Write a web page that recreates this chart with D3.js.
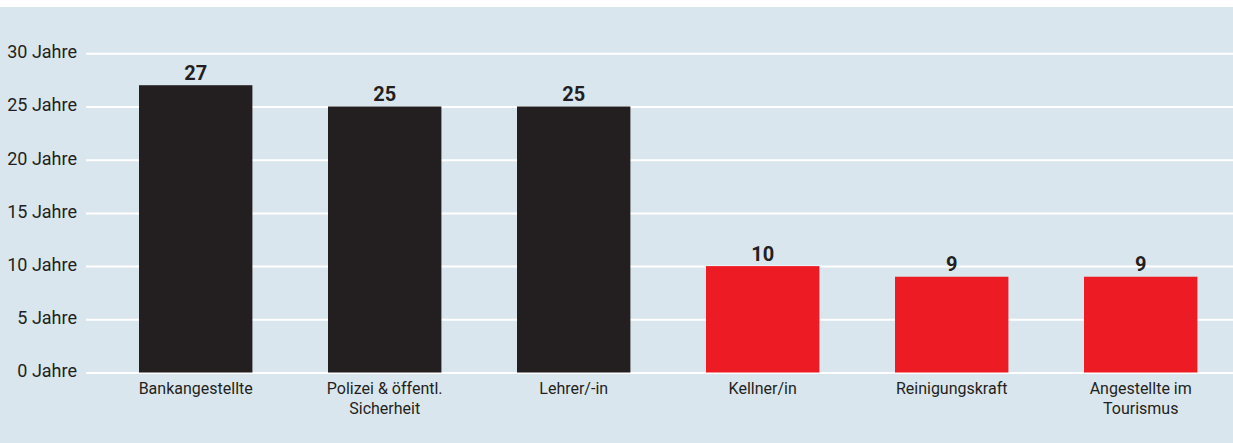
<!DOCTYPE html>
<html>
<head>
<meta charset="utf-8">
<script src="https://cdn.jsdelivr.net/npm/d3@7"></script>
<style>
  html, body { margin: 0; padding: 0; background: #ffffff; }
  svg { display: block; }
</style>
</head>
<body>
<svg id="chart" width="1233" height="443"></svg>
<script>
const categories = ["Bankangestellte", "Polizei & öffentl. Sicherheit", "Lehrer/-in", "Kellner/in", "Reinigungskraft", "Angestellte im Tourismus"];
const values = [27, 25, 25, 10, 9, 9];
const groups = ["hoch", "hoch", "hoch", "niedrig", "niedrig", "niedrig"];
const yTicks = [0, 5, 10, 15, 20, 25, 30];
const tickSuffix = " Jahre";

const W = 1233, H = 443;
const svg = d3.select("#chart");
const font = "Roboto, 'Open Sans', sans-serif";
const textColor = "#231f20";
const colors = { hoch: "#231f20", niedrig: "#ed1c24" };

svg.append("rect").attr("x", 0).attr("y", 7).attr("width", W).attr("height", H - 7).attr("fill", "#dae6ee");

const x = d3.scaleBand().domain(categories).range([101.2, 1235.2]).paddingInner(0.4).paddingOuter(0.2);
const y = d3.scaleLinear().domain([0, 30]).range([372.5, 53.3]);

const gridLeft = 86;
const yAxis = svg.append("g")
  .attr("transform", `translate(${gridLeft},0)`)
  .call(d3.axisLeft(y).tickValues(yTicks).tickFormat(d => d + tickSuffix).tickSize(-(W - gridLeft)).tickPadding(9));
yAxis.select(".domain").remove();
yAxis.selectAll(".tick line").attr("stroke", "#ffffff").attr("stroke-width", 2);
yAxis.selectAll(".tick text")
  .attr("fill", textColor)
  .attr("font-family", font)
  .attr("font-size", 18)
  .attr("dy", "0.24em");

svg.append("g").selectAll("rect")
  .data(categories)
  .join("rect")
  .attr("x", d => x(d))
  .attr("width", x.bandwidth())
  .attr("y", (d, i) => y(values[i]))
  .attr("height", (d, i) => y(0) - y(values[i]))
  .attr("fill", (d, i) => colors[groups[i]]);

svg.append("g").selectAll("text")
  .data(categories)
  .join("text")
  .attr("x", d => x(d) + x.bandwidth() / 2)
  .attr("y", (d, i) => y(values[i]) - 5.5)
  .attr("text-anchor", "middle")
  .attr("font-family", font)
  .attr("font-weight", "bold")
  .attr("font-size", 20)
  .attr("fill", textColor)
  .text((d, i) => values[i]);

const xAxis = svg.append("g")
  .attr("transform", `translate(0,${y(0)})`)
  .call(d3.axisBottom(x).tickSize(0).tickPadding(0));
xAxis.select(".domain").remove();
xAxis.selectAll(".tick text")
  .attr("fill", textColor)
  .attr("font-family", font)
  .attr("font-size", 16)
  .attr("dy", 0)
  .attr("y", 21)
  .each(function (d) {
    const t = d3.select(this);
    const words = d.split(" ");
    t.text(null);
    let line = [];
    let tspan = t.append("tspan").attr("x", 0).attr("dy", 0);
    for (const w of words) {
      line.push(w);
      tspan.text(line.join(" "));
      if (tspan.node().getComputedTextLength() > 130 && line.length > 1) {
        line.pop();
        tspan.text(line.join(" "));
        line = [w];
        tspan = t.append("tspan").attr("x", 0).attr("dy", 20.7).text(w);
      }
    }
  });
</script>
</body>
</html>
